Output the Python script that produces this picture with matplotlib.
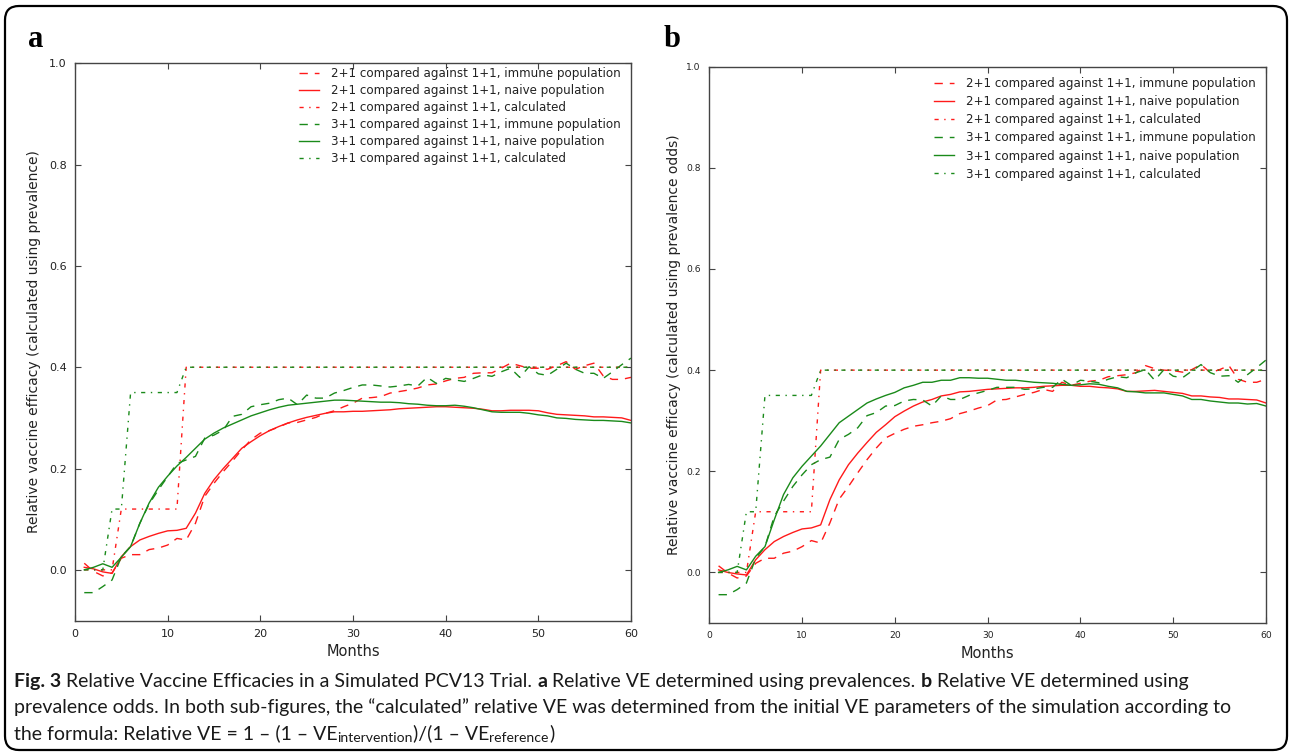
import matplotlib
matplotlib.use("Agg")
import matplotlib.pyplot as plt
from matplotlib.patches import FancyBboxPatch
from matplotlib.transforms import IdentityTransform

months = list(range(1, 61))

calc_21 = [0.0, 0.0, 0.0, 0.0, 0.12, 0.12, 0.12, 0.12, 0.12, 0.12, 0.12, 0.4,
           0.4, 0.4, 0.4, 0.4, 0.4, 0.4, 0.4, 0.4, 0.4, 0.4, 0.4, 0.4, 0.4, 0.4,
           0.4, 0.4, 0.4, 0.4, 0.4, 0.4, 0.4, 0.4, 0.4, 0.4, 0.4, 0.4, 0.4, 0.4,
           0.4, 0.4, 0.4, 0.4, 0.4, 0.4, 0.4, 0.4, 0.4, 0.4, 0.4, 0.4, 0.4, 0.4,
           0.4, 0.4, 0.4, 0.4, 0.4, 0.4]
calc_31 = [0.0, 0.0, 0.0, 0.12, 0.12, 0.35, 0.35, 0.35, 0.35, 0.35, 0.35, 0.4,
           0.4, 0.4, 0.4, 0.4, 0.4, 0.4, 0.4, 0.4, 0.4, 0.4, 0.4, 0.4, 0.4, 0.4,
           0.4, 0.4, 0.4, 0.4, 0.4, 0.4, 0.4, 0.4, 0.4, 0.4, 0.4, 0.4, 0.4, 0.4,
           0.4, 0.4, 0.4, 0.4, 0.4, 0.4, 0.4, 0.4, 0.4, 0.4, 0.4, 0.4, 0.4, 0.4,
           0.4, 0.4, 0.4, 0.4, 0.4, 0.4]

# Panel a: prevalence
a_21_immune = [0.013, -0.003, -0.012, -0.006, 0.023, 0.03, 0.03, 0.04, 0.043, 0.049,
               0.062, 0.059, 0.092, 0.145, 0.171, 0.194, 0.215, 0.237, 0.257, 0.27,
               0.275, 0.282, 0.29, 0.291, 0.296, 0.301, 0.309, 0.314, 0.322, 0.329,
               0.339, 0.34, 0.342, 0.349, 0.352, 0.355, 0.359, 0.365, 0.367, 0.373,
               0.378, 0.38, 0.388, 0.389, 0.389, 0.398, 0.408, 0.403, 0.398, 0.398,
               0.396, 0.403, 0.411, 0.396, 0.403, 0.408, 0.383, 0.376, 0.376, 0.38]
a_21_naive = [0.005, 0.002, -0.004, -0.007, 0.026, 0.046, 0.059, 0.066, 0.072, 0.077,
              0.078, 0.082, 0.112, 0.151, 0.178, 0.2, 0.22, 0.24, 0.253, 0.265,
              0.275, 0.283, 0.29, 0.296, 0.301, 0.305, 0.309, 0.312, 0.312, 0.313,
              0.313, 0.314, 0.315, 0.316, 0.318, 0.319, 0.32, 0.321, 0.322, 0.322,
              0.321, 0.32, 0.319, 0.317, 0.314, 0.314, 0.315, 0.315, 0.315, 0.314,
              0.31, 0.307, 0.306, 0.305, 0.304, 0.302, 0.302, 0.301, 0.3, 0.295]
a_31_immune = [-0.045, -0.045, -0.033, -0.02, 0.026, 0.046, 0.092, 0.13, 0.158, 0.184,
               0.21, 0.217, 0.224, 0.26, 0.266, 0.276, 0.303, 0.307, 0.322, 0.326,
               0.329, 0.336, 0.339, 0.326, 0.345, 0.339, 0.339, 0.349, 0.354, 0.36,
               0.365, 0.365, 0.363, 0.361, 0.363, 0.366, 0.363, 0.38, 0.368, 0.378,
               0.375, 0.372, 0.378, 0.385, 0.382, 0.391, 0.398, 0.38, 0.401, 0.387,
               0.384, 0.396, 0.408, 0.396, 0.388, 0.388, 0.378, 0.391, 0.405, 0.418]
a_31_naive = [0.0, 0.005, 0.012, 0.005, 0.025, 0.046, 0.092, 0.132, 0.163, 0.185,
              0.205, 0.222, 0.24, 0.258, 0.27, 0.28, 0.288, 0.296, 0.304, 0.31,
              0.316, 0.321, 0.325, 0.327, 0.329, 0.331, 0.333, 0.335, 0.335, 0.334,
              0.333, 0.332, 0.331, 0.331, 0.33, 0.328, 0.327, 0.325, 0.324, 0.324,
              0.325, 0.323, 0.32, 0.316, 0.312, 0.311, 0.311, 0.311, 0.309, 0.306,
              0.304, 0.3, 0.299, 0.297, 0.296, 0.295, 0.295, 0.294, 0.293, 0.29]

# Panel b: prevalence odds
b_21_immune = [0.013, -0.001, -0.011, -0.007, 0.018, 0.028, 0.028, 0.038, 0.042, 0.051,
               0.063, 0.058, 0.098, 0.145, 0.17, 0.197, 0.223, 0.246, 0.266, 0.275,
               0.283, 0.289, 0.292, 0.296, 0.299, 0.304, 0.314, 0.319, 0.325, 0.33,
               0.341, 0.342, 0.347, 0.352, 0.356, 0.362, 0.358, 0.376, 0.37, 0.374,
               0.378, 0.38, 0.387, 0.389, 0.391, 0.395, 0.409, 0.403, 0.4, 0.399,
               0.396, 0.401, 0.411, 0.395, 0.401, 0.409, 0.382, 0.376, 0.376, 0.382]
b_21_naive = [0.005, 0.0, -0.003, -0.005, 0.025, 0.045, 0.061, 0.071, 0.079, 0.086,
              0.088, 0.094, 0.144, 0.183, 0.213, 0.236, 0.257, 0.277, 0.292, 0.308,
              0.319, 0.329, 0.337, 0.342, 0.349, 0.352, 0.357, 0.358, 0.36, 0.362,
              0.363, 0.364, 0.365, 0.365, 0.366, 0.368, 0.369, 0.37, 0.37, 0.368,
              0.368, 0.366, 0.365, 0.363, 0.358, 0.358, 0.359, 0.36, 0.358, 0.356,
              0.354, 0.349, 0.349, 0.347, 0.346, 0.343, 0.343, 0.342, 0.341, 0.335]
b_31_immune = [-0.044, -0.044, -0.034, -0.021, 0.028, 0.051, 0.111, 0.141, 0.17, 0.193,
               0.213, 0.223, 0.228, 0.263, 0.273, 0.286, 0.31, 0.316, 0.329, 0.33,
               0.339, 0.342, 0.341, 0.329, 0.349, 0.342, 0.342, 0.35, 0.355, 0.36,
               0.366, 0.366, 0.366, 0.362, 0.363, 0.366, 0.366, 0.382, 0.37, 0.38,
               0.378, 0.375, 0.382, 0.387, 0.385, 0.395, 0.401, 0.38, 0.401, 0.388,
               0.385, 0.398, 0.411, 0.395, 0.388, 0.389, 0.376, 0.391, 0.405, 0.42]
b_31_naive = [0.0, 0.005, 0.012, 0.005, 0.032, 0.051, 0.104, 0.154, 0.187, 0.21,
              0.23, 0.25, 0.273, 0.296, 0.309, 0.322, 0.335, 0.343, 0.35, 0.356,
              0.365, 0.37, 0.376, 0.376, 0.38, 0.38, 0.385, 0.385, 0.384, 0.384,
              0.382, 0.38, 0.38, 0.378, 0.376, 0.375, 0.374, 0.372, 0.37, 0.371,
              0.373, 0.372, 0.368, 0.365, 0.358, 0.357, 0.355, 0.355, 0.355, 0.352,
              0.349, 0.342, 0.342, 0.339, 0.337, 0.335, 0.335, 0.333, 0.334, 0.329]

labels = ["2+1 compared against 1+1, immune population",
          "2+1 compared against 1+1, naive population",
          "2+1 compared against 1+1, calculated",
          "3+1 compared against 1+1, immune population",
          "3+1 compared against 1+1, naive population",
          "3+1 compared against 1+1, calculated"]
ylabels = ["Relative vaccine efficacy (calculated using prevalence)",
           "Relative vaccine efficacy (calculated using prevalence odds)"]
panel_letters = ["a", "b"]
xticks = [0, 10, 20, 30, 40, 50, 60]
yticks = [0.0, 0.2, 0.4, 0.6, 0.8, 1.0]

W, H = 1292, 756
fig = plt.figure(figsize=(W / 100, H / 100), dpi=100)
fig.patch.set_facecolor("white")

RED = "#ff1a1a"
GREEN = "#1a8a1a"
DASH = (0, (6, 5))
DASHDOT = (0, (3, 4, 1, 4))


def rect(l, t, r, b):
    return [l / W, 1 - b / H, (r - l) / W, (b - t) / H]


panels = [
    dict(box=(75, 63.3, 631, 620.5), data=(a_21_immune, a_21_naive, a_31_immune, a_31_naive),
         tick=8.0, ylab_x=34, letter_xy=(28, 47), xlab_y=651, leg_y=1.012, leg_ls=0.33),
    dict(box=(709.3, 66.7, 1266, 623), data=(b_21_immune, b_21_naive, b_31_immune, b_31_naive),
         tick=6.6, ylab_x=674, letter_xy=(664, 47), xlab_y=654, leg_y=1.0, leg_ls=0.42),
]

for i, p in enumerate(panels):
    l, t, r, b = p["box"]
    ax = fig.add_axes(rect(l, t, r, b))
    s21i, s21n, s31i, s31n = p["data"]
    ax.plot(months, s21i, color=RED, lw=1.0, linestyle=DASH, label=labels[0])
    ax.plot(months, s21n, color=RED, lw=1.0, linestyle="-", label=labels[1])
    ax.plot(months, calc_21, color=RED, lw=1.0, linestyle=DASHDOT, label=labels[2])
    ax.plot(months, s31i, color=GREEN, lw=1.0, linestyle=DASH, label=labels[3])
    ax.plot(months, s31n, color=GREEN, lw=1.0, linestyle="-", label=labels[4])
    ax.plot(months, calc_31, color=GREEN, lw=1.0, linestyle=DASHDOT, label=labels[5])
    ax.set_xlim(0, 60)
    ax.set_ylim(-0.1, 1.0)
    ax.set_xticks(xticks)
    ax.set_yticks(yticks)
    ax.set_yticklabels([f"{v:.1f}" for v in yticks])
    ax.tick_params(direction="in", top=True, right=True, length=4, width=0.8,
                   color="#444444", labelsize=p["tick"], pad=6, labelcolor="#222222")
    for sp in ax.spines.values():
        sp.set_color("#444444")
        sp.set_linewidth(1.0)
    leg = ax.legend(loc="upper right", bbox_to_anchor=(1.0, p["leg_y"]), frameon=False,
                    fontsize=8.6, handlelength=1.6, handletextpad=1.0,
                    labelspacing=p["leg_ls"], borderaxespad=0.5)
    for txt in leg.get_texts():
        txt.set_color("#222222")
    fig.text(p["ylab_x"] / W, 1 - (t + b) / 2 / H, ylabels[i], rotation=90,
             ha="center", va="center", fontsize=10, color="#222222")
    fig.text(((l + r) / 2) / W, 1 - p["xlab_y"] / H, "Months", ha="center", va="center",
             fontsize=10.5, color="#222222")
    fig.text(p["letter_xy"][0] / W, 1 - p["letter_xy"][1] / H, panel_letters[i],
             fontsize=22, fontweight="bold", family="Liberation Serif",
             ha="left", va="baseline", color="black")

# Outer rounded frame
frame = FancyBboxPatch((5, 6), W - 10, H - 12, boxstyle="round,pad=0,rounding_size=14",
                       transform=IdentityTransform(), fill=False, edgecolor="black",
                       linewidth=1.6)
fig.add_artist(frame)

# Caption
cap_font = ["Lato", "DejaVu Sans"]
cap_size = 14.0
renderer = fig.canvas.get_renderer()


def draw_line(pieces, x0, ybase):
    x = x0
    for txt, weight, size, dy in pieces:
        tt = fig.text(x / W, 1 - (ybase + dy) / H, txt, fontsize=size, fontweight=weight,
                      family=cap_font, ha="left", va="baseline", color="#1a1a1a")
        bb = tt.get_window_extent(renderer)
        x += bb.width
    return x


line1 = [("Fig. 3", "bold", cap_size, 0),
         (" Relative Vaccine Efficacies in a Simulated PCV13 Trial. ", "normal", cap_size, 0),
         ("a", "bold", cap_size, 0),
         (" Relative VE determined using prevalences. ", "normal", cap_size, 0),
         ("b", "bold", cap_size, 0),
         (" Relative VE determined using", "normal", cap_size, 0)]
line2 = [("prevalence odds. In both sub-figures, the \u201ccalculated\u201d relative VE was determined "
          "from the initial VE parameters of the simulation according to", "normal", cap_size, 0)]
line3 = [("the formula: Relative VE = 1 \u2013 (1 \u2013 VE", "normal", cap_size, 0),
         ("intervention", "normal", cap_size * 0.72, 3.5),
         (")/(1 \u2013 VE", "normal", cap_size, 0),
         ("reference", "normal", cap_size * 0.72, 3.5),
         (")", "normal", cap_size, 0)]

draw_line(line1, 14, 687)
draw_line(line2, 14, 713)
draw_line(line3, 14, 739)

fig.savefig("out.png", dpi=100, facecolor="white")
